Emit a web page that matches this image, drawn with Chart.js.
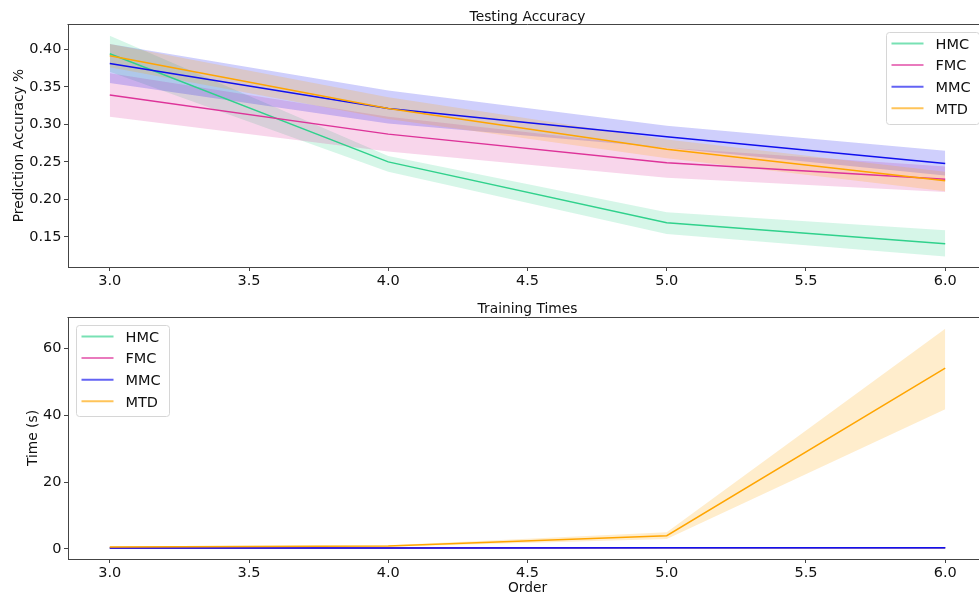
<!DOCTYPE html>
<html>
<head>
<meta charset="utf-8">
<script src="https://cdn.jsdelivr.net/npm/chart.js@4.4.1/dist/chart.umd.min.js"></script>
<style>
  html, body { margin: 0; padding: 0; background: #fff; overflow: hidden; width: 979px; height: 599px; }
  .box { position: absolute; left: 0; }
  canvas { display: block; }
</style>
</head>
<body>
<div class="box" style="top:0px"><canvas id="c1" width="988" height="290"></canvas></div>
<div class="box" style="top:290px"><canvas id="c2" width="988" height="309"></canvas></div>
<script>
// ---------- DATA ----------
const orders = [3, 4, 5, 6];
const seriesNames = ['HMC', 'FMC', 'MMC', 'MTD'];
const seriesColors = ['#30d18c', '#dd3399', '#1010ee', '#ffa500'];

// Testing accuracy (mean, lower, upper)
const accHMC     = [0.394, 0.250, 0.169, 0.141];
const accHMCLow  = [0.370, 0.237, 0.154, 0.124];
const accHMCHigh = [0.418, 0.258, 0.183, 0.159];
const accFMC     = [0.339, 0.287, 0.249, 0.227];
const accFMCLow  = [0.310, 0.264, 0.229, 0.210];
const accFMCHigh = [0.368, 0.310, 0.269, 0.244];
const accMMC     = [0.381, 0.321, 0.2835, 0.248];
const accMMCLow  = [0.355, 0.301, 0.269, 0.232];
const accMMCHigh = [0.407, 0.345, 0.298, 0.265];
const accMTD     = [0.3915, 0.321, 0.267, 0.225];
const accMTDLow  = [0.376, 0.307, 0.255, 0.211];
const accMTDHigh = [0.407, 0.336, 0.280, 0.237];

// Training times (mean, lower, upper)
const timeHMC     = [0.30, 0.32, 0.36, 0.40];
const timeHMCLow  = [0.28, 0.30, 0.33, 0.37];
const timeHMCHigh = [0.32, 0.34, 0.39, 0.43];
const timeFMC     = [0.30, 0.32, 0.36, 0.40];
const timeFMCLow  = [0.28, 0.30, 0.33, 0.37];
const timeFMCHigh = [0.32, 0.34, 0.39, 0.43];
const timeMMC     = [0.30, 0.32, 0.36, 0.40];
const timeMMCLow  = [0.28, 0.30, 0.33, 0.37];
const timeMMCHigh = [0.32, 0.34, 0.39, 0.43];
const timeMTD     = [0.6, 0.9, 4.0, 54.2];
const timeMTDLow  = [0.4, 0.7, 3.0, 41.9];
const timeMTDHigh = [0.8, 1.1, 5.0, 66.0];

const xTicks = [3.0, 3.5, 4.0, 4.5, 5.0, 5.5, 6.0];
const accTicks = [0.15, 0.20, 0.25, 0.30, 0.35, 0.40];
const timeTicks = [0, 20, 40, 60];

// ---------- HELPERS ----------
Chart.defaults.font.family = '"DejaVu Sans", sans-serif';
Chart.defaults.animation = false;

function rgba(hex, a) {
  const n = parseInt(hex.slice(1), 16);
  return `rgba(${(n >> 16) & 255},${(n >> 8) & 255},${n & 255},${a})`;
}
function pts(arr) { return arr.map((v, i) => ({ x: orders[i], y: v })); }

function buildDatasets(means, lows, highs, lineOrder) {
  const ds = [];
  means.forEach((m, i) => {
    ds.push({
      label: seriesNames[i], data: pts(m), borderColor: seriesColors[i],
      borderWidth: 1.5, pointRadius: 0, fill: false, tension: 0,
      order: lineOrder[i]
    });
  });
  means.forEach((m, i) => {
    ds.push({
      label: seriesNames[i] + ' upper', data: pts(highs[i]), borderWidth: 0,
      borderColor: 'rgba(0,0,0,0)', backgroundColor: rgba(seriesColors[i], 0.2),
      pointRadius: 0, fill: '+1', tension: 0, order: 20 - i
    });
    ds.push({
      label: seriesNames[i] + ' lower', data: pts(lows[i]), borderWidth: 0,
      borderColor: 'rgba(0,0,0,0)', pointRadius: 0, fill: false, tension: 0, order: 20 - i
    });
  });
  return ds;
}

const decor = {
  id: 'decor',
  afterDraw(chart, args, o) {
    const ctx = chart.ctx, a = chart.chartArea;
    ctx.save();
    // top and right spines
    ctx.strokeStyle = '#444';
    ctx.lineWidth = 1;
    ctx.beginPath();
    ctx.moveTo(Math.round(a.left) - 0.5, Math.round(a.top) + 0.5);
    ctx.lineTo(Math.round(a.right) + 0.5, Math.round(a.top) + 0.5);
    ctx.lineTo(Math.round(a.right) + 0.5, Math.round(a.bottom));
    ctx.stroke();

    ctx.fillStyle = '#111';
    ctx.font = '13.8px "DejaVu Sans"';
    ctx.textAlign = 'center';
    ctx.textBaseline = 'alphabetic';
    ctx.fillText(o.title, (a.left + a.right) / 2, o.titleY);
    if (o.xlabel) ctx.fillText(o.xlabel, (a.left + a.right) / 2, o.xlabelY);
    ctx.save();
    ctx.translate(o.ylabelX, (a.top + a.bottom) / 2);
    ctx.rotate(-Math.PI / 2);
    ctx.fillText(o.ylabel, 0, 0);
    ctx.restore();

    // legend
    const L = o.legend;
    ctx.beginPath();
    if (ctx.roundRect) ctx.roundRect(L.x + 0.5, L.y + 0.5, L.w, L.h, 3);
    else ctx.rect(L.x + 0.5, L.y + 0.5, L.w, L.h);
    ctx.fillStyle = 'rgba(255,255,255,0.8)';
    ctx.fill();
    ctx.strokeStyle = '#d6d6d6';
    ctx.lineWidth = 1;
    ctx.stroke();
    ctx.font = '14.5px "DejaVu Sans"';
    ctx.textAlign = 'left';
    ctx.textBaseline = 'alphabetic';
    seriesNames.forEach((name, i) => {
      const cy = L.y + 11.5 + i * 21.6;
      ctx.strokeStyle = rgba(seriesColors[i], 0.65);
      ctx.lineWidth = 2;
      ctx.beginPath();
      ctx.moveTo(L.x + 5.5, cy);
      ctx.lineTo(L.x + 37.5, cy);
      ctx.stroke();
      ctx.fillStyle = '#111';
      ctx.fillText(name, L.x + 49.5, cy + 5.3);
    });
    ctx.restore();
  }
};

function makeChart(id, datasets, yMin, yMax, yTicks, yFmt, xHeight, padTop, decorOpts) {
  return new Chart(document.getElementById(id), {
    type: 'line',
    data: { datasets },
    plugins: [decor],
    options: {
      responsive: false,
      devicePixelRatio: 1,
      animation: false,
      layout: { padding: { left: 0, right: 1, top: padTop, bottom: 0 } },
      plugins: { legend: { display: false }, tooltip: { enabled: false }, decor: decorOpts },
      scales: {
        x: {
          type: 'linear', min: 2.85, max: 6.15,
          afterBuildTicks: s => { s.ticks = xTicks.map(v => ({ value: v })); },
          afterFit: s => { s.height = xHeight; },
          grid: { display: true, drawOnChartArea: false, drawTicks: true, tickLength: 4, tickColor: '#444', tickWidth: 1 },
          border: { display: true, color: '#444', width: 1 },
          ticks: { color: '#111', font: { size: 14.5 }, padding: 2, maxRotation: 0, autoSkip: false,
                   callback: v => Number(v).toFixed(1) }
        },
        y: {
          type: 'linear', min: yMin, max: yMax,
          afterBuildTicks: s => { s.ticks = yTicks.map(v => ({ value: v })); },
          afterFit: s => { s.width = 68; },
          grid: { display: true, drawOnChartArea: false, drawTicks: true, tickLength: 4, tickColor: '#444', tickWidth: 1 },
          border: { display: true, color: '#444', width: 1 },
          ticks: { color: '#111', font: { size: 14.5 }, padding: 2.5, autoSkip: false, callback: yFmt }
        }
      }
    }
  });
}

makeChart('c1',
  buildDatasets([accHMC, accFMC, accMMC, accMTD], [accHMCLow, accFMCLow, accMMCLow, accMTDLow], [accHMCHigh, accFMCHigh, accMMCHigh, accMTDHigh], [3, 2, 1, 0]),
  0.11, 0.4337, accTicks, v => Number(v).toFixed(2), 23, 24,
  { title: 'Testing Accuracy', titleY: 20.5, ylabel: 'Prediction Accuracy %', ylabelX: 23,
    legend: { x: 886, y: 32, w: 93, h: 92 } });

makeChart('c2',
  buildDatasets([timeHMC, timeFMC, timeMMC, timeMTD], [timeHMCLow, timeFMCLow, timeMMCLow, timeMTDLow], [timeHMCHigh, timeFMCHigh, timeMMCHigh, timeMTDHigh], [3, 2, 1, 0]),
  -3.0, 69.5, timeTicks, v => String(Math.round(v)), 40, 27,
  { title: 'Training Times', titleY: 23.3, ylabel: 'Time (s)', ylabelX: 37, xlabel: 'Order', xlabelY: 301.7,
    legend: { x: 76, y: 35, w: 93, h: 91 } });
</script>
</body>
</html>
